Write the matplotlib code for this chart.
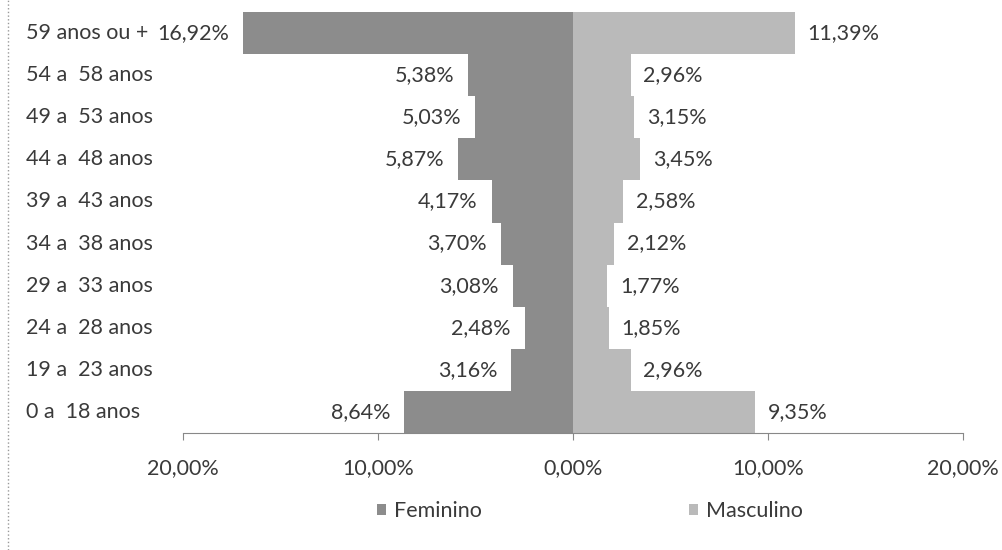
import matplotlib
matplotlib.use("Agg")
import matplotlib.pyplot as plt
import matplotlib.transforms as mtransforms
from matplotlib.lines import Line2D

plt.rcParams['font.family'] = ['Lato', 'DejaVu Sans']

# age groups, top to bottom as in the picture
faixas = ['59 anos ou +', '54 a  58 anos', '49 a  53 anos', '44 a  48 anos',
          '39 a  43 anos', '34 a  38 anos', '29 a  33 anos', '24 a  28 anos',
          '19 a  23 anos', '0 a  18 anos']
feminino = [16.92, 5.38, 5.03, 5.87, 4.17, 3.70, 3.08, 2.48, 3.16, 8.64]
masculino = [11.39, 2.96, 3.15, 3.45, 2.58, 2.12, 1.77, 1.85, 2.96, 9.35]
ticks = [-20, -10, 0, 10, 20]

def fmt(v):
    return f'{abs(v):.2f}%'.replace('.', ',')

fig = plt.figure(figsize=(10.02, 5.5), dpi=100)
ax = fig.add_axes([0.1826, 0.2127, 0.7784, 0.7655])

ypos = list(range(len(faixas)))[::-1]
neg_fem = [-v for v in feminino]
ax.barh(ypos, neg_fem, height=1.0, color='#8c8c8c', label='Feminino')
ax.barh(ypos, masculino, height=1.0, color='#bababa', label='Masculino')

fs = 15.5
tc = '#3a3a3a'
for y, f, m in zip(ypos, neg_fem, masculino):
    ax.annotate(fmt(f), (f, y), xytext=(-10, 0), textcoords='offset points',
                ha='right', va='center', fontsize=fs, color=tc)
    ax.annotate(fmt(m), (m, y), xytext=(9, 0), textcoords='offset points',
                ha='left', va='center', fontsize=fs, color=tc)

# category labels near the left edge
trans = mtransforms.blended_transform_factory(fig.transFigure, ax.transData)
for y, lab in zip(ypos, faixas):
    ax.text(0.026, y, lab, transform=trans, ha='left', va='center',
            fontsize=fs, color=tc)

ax.set_xlim(-20, 20)
ax.set_ylim(-0.5, len(faixas) - 0.5)
ax.set_xticks(ticks)
ax.set_xticklabels([fmt(t) for t in ticks], fontsize=fs, color=tc)
ax.set_yticks([])
for s in ['top', 'right', 'left']:
    ax.spines[s].set_visible(False)
ax.spines['bottom'].set_color('#888888')
ax.tick_params(axis='x', length=5, color='#888888', pad=13)

fig.legend(loc='center', bbox_to_anchor=(0.589, 0.071), ncol=2, frameon=False,
           fontsize=fs, handlelength=0.4, handleheight=0.4, handletextpad=0.4,
           columnspacing=9.6, labelcolor=tc)

# left border of the scanned chart
fig.add_artist(Line2D([0.008, 0.008], [0, 1], transform=fig.transFigure,
                      color='#999999', lw=1, ls=':'))

fig.savefig('out.png', dpi=100)
